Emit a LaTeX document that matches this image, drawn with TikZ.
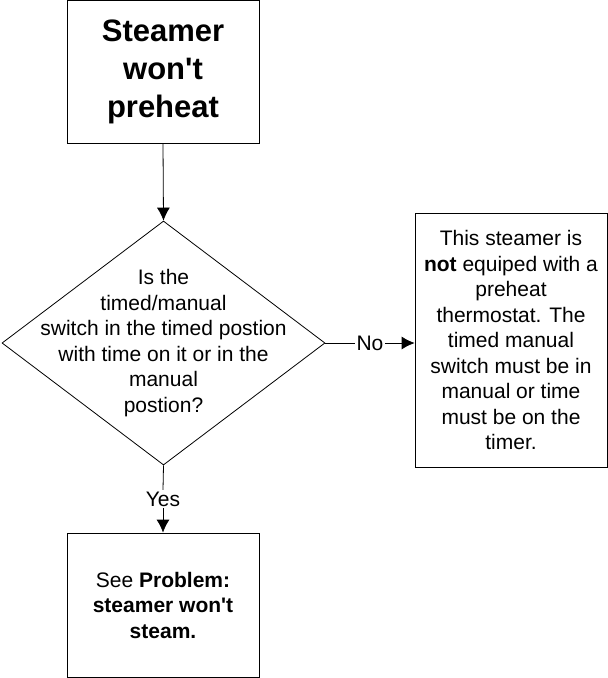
\documentclass[tikz,border=0pt]{standalone}
\usepackage{fontspec}
\setmainfont{Liberation Sans}[Ligatures=TeXOff]
\usepackage{tikz}
\usetikzlibrary{shapes.geometric, arrows.meta}

\begin{document}
\begin{tikzpicture}[x=1pt, y=-1pt, line width=0.8pt,
  box/.style={draw, rectangle, align=center, inner sep=0pt, font=\fontsize{21}{25.5}\selectfont},
  decision/.style={draw, diamond, inner sep=0pt, minimum width=323pt, minimum height=244pt},
  lbl/.style={inner sep=1.5pt, font=\fontsize{21}{25.5}\selectfont},
  arr/.style={-{Latex[length=13pt, width=13pt]}}]
\useasboundingbox (0,0) rectangle (608,678);
\node[box, minimum width=192pt, minimum height=142.5pt, font=\fontsize{31}{38}\selectfont\bfseries] (start) at (163,71.75) {Steamer\\won't\\preheat};
\node[decision] (dec) at (163.5,343) {};
\node[align=center, font=\fontsize{21}{25.5}\selectfont] (question) at (dec.center) {Is the\\timed/manual\\switch in the timed postion\\with time on it or in the\\manual\\postion?};
\node[box, minimum width=192pt, minimum height=254pt] (nothermo) at (511,340) {This steamer is\\\textbf{not} equiped with a\\preheat\\thermostat. The\\timed manual\\switch must be in\\manual or time\\must be on the\\timer.};
\node[box, minimum width=192pt, minimum height=144pt] (seesteam) at (163,605) {See \textbf{Problem:}\\\textbf{steamer won't}\\\textbf{steam.}};
\node[lbl] (no) at (370,343) {No};
\node[lbl] (yes) at (163,499) {Yes};
\draw[arr] (start.south) -- (dec.north);
\draw (dec.east) -- (no.west);
\draw[arr] (no.east) -- (no.east -| nothermo.west);
\draw (dec.south) -- (yes.north);
\draw[arr] (yes.south) -- (seesteam.north);
\end{tikzpicture}
\end{document}
